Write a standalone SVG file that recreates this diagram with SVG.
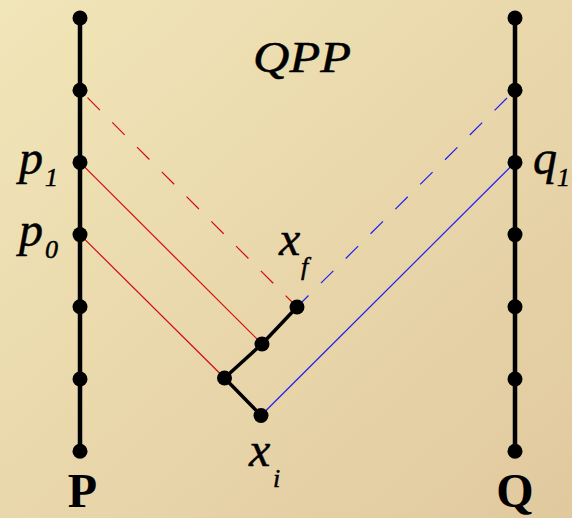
<svg xmlns="http://www.w3.org/2000/svg" width="572" height="518" viewBox="0 0 572 518">
<defs>
<linearGradient id="bg" x1="0" y1="0" x2="1" y2="1">
<stop offset="0" stop-color="#f1e6b9"/>
<stop offset="1" stop-color="#e1c99e"/>
</linearGradient>
<style>
.axis{stroke:#000;stroke-width:4.5;fill:none}
.dot{fill:#000}
.chain{stroke:#000;stroke-width:3.5;fill:none;stroke-linejoin:round}
.red{stroke:#d40a0a;stroke-width:1.2}
.blue{stroke:#1e1ef5;stroke-width:1.2}
.dash{stroke-dasharray:17.5 17.5}
.it{font-family:"Liberation Serif","Times New Roman",serif;font-style:italic;fill:#000;stroke:#000;stroke-width:0.5}
.bd{font-family:"Liberation Serif","Times New Roman",serif;font-weight:bold;fill:#000}
</style>
</defs>
<rect width="572" height="518" fill="url(#bg)"/>
<g id="connectors">
<line class="red" x1="80" y1="234.6" x2="224.5" y2="378"/>
<line class="red" x1="80" y1="162.4" x2="262" y2="344"/>
<line class="red dash" x1="87.5" y1="97.7" x2="297" y2="307"/>
<line class="blue" x1="515" y1="162.4" x2="261" y2="415.5"/>
<line class="blue dash" x1="507" y1="98" x2="297" y2="307"/>
<polyline class="chain" points="261,415.5 224.5,378 262,344 297,307"/>
</g>
<g id="P">
<line class="axis" x1="80" y1="18" x2="80" y2="451"/>
<circle class="dot" cx="80" cy="18" r="7.5"/>
<circle class="dot" cx="80" cy="90.2" r="7.5"/>
<circle class="dot" cx="80" cy="162.4" r="7.5"/>
<circle class="dot" cx="80" cy="234.6" r="7.5"/>
<circle class="dot" cx="80" cy="306.8" r="7.5"/>
<circle class="dot" cx="80" cy="379" r="7.5"/>
<circle class="dot" cx="80" cy="451.2" r="7.5"/>
<text class="bd" x="82.5" y="507" font-size="48" text-anchor="middle">P</text>
</g>
<g id="Q">
<line class="axis" x1="515" y1="18" x2="515" y2="451"/>
<circle class="dot" cx="515" cy="18" r="7.5"/>
<circle class="dot" cx="515" cy="90.2" r="7.5"/>
<circle class="dot" cx="515" cy="162.4" r="7.5"/>
<circle class="dot" cx="515" cy="234.6" r="7.5"/>
<circle class="dot" cx="515" cy="306.8" r="7.5"/>
<circle class="dot" cx="515" cy="379" r="7.5"/>
<circle class="dot" cx="515" cy="451.2" r="7.5"/>
<text class="bd" x="515" y="507" font-size="48" text-anchor="middle">Q</text>
</g>
<g id="p1">
<text class="it" x="19" y="174" font-size="48">p</text>
<text class="it" x="45" y="186" font-size="26">1</text>
</g>
<g id="p0">
<text class="it" x="19" y="246" font-size="48">p</text>
<text class="it" x="45" y="258" font-size="26">0</text>
</g>
<g id="q1">
<text class="it" x="533" y="174" font-size="48">q</text>
<text class="it" x="557" y="186" font-size="26">1</text>
</g>
<g id="xi">
<circle class="dot" cx="261" cy="415.5" r="7.5"/>
<text class="it" x="249" y="466" font-size="48">x</text>
<text class="it" x="273" y="487" font-size="26">i</text>
</g>
<g id="xf">
<circle class="dot" cx="297" cy="307" r="7.5"/>
<text class="it" x="279" y="255" font-size="48">x</text>
<text class="it" x="301" y="275" font-size="26">f</text>
</g>
<g id="chainpts">
<circle class="dot" cx="224.5" cy="378" r="7.5"/>
<circle class="dot" cx="262" cy="344" r="7.5"/>
</g>
<g id="title">
<text class="it" x="253" y="72" font-size="44" textLength="98" lengthAdjust="spacingAndGlyphs">QPP</text>
</g>
</svg>
